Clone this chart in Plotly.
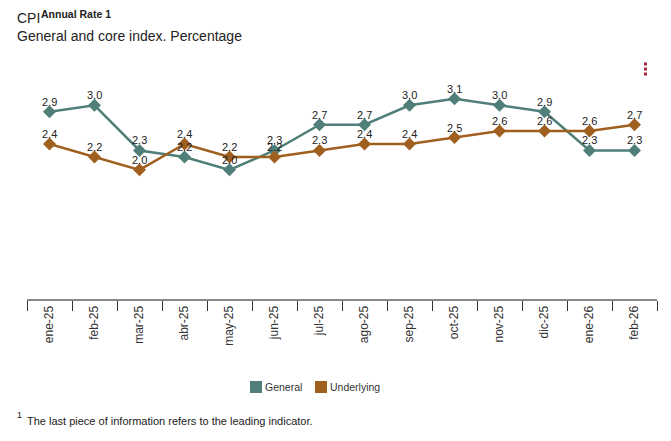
import plotly.graph_objects as go

months = ["ene-25", "feb-25", "mar-25", "abr-25", "may-25", "jun-25", "jul-25",
          "ago-25", "sep-25", "oct-25", "nov-25", "dic-25", "ene-26", "feb-26"]
general = [2.9, 3.0, 2.3, 2.2, 2.0, 2.3, 2.7, 2.7, 3.0, 3.1, 3.0, 2.9, 2.3, 2.3]
underlying = [2.4, 2.2, 2.0, 2.4, 2.2, 2.2, 2.3, 2.4, 2.4, 2.5, 2.6, 2.6, 2.6, 2.7]
series_names = ["General", "Underlying"]

C_GEN = "#4f7f78"
C_UND = "#9f5f1f"

# page has an 8px body margin: work in screen pixels, shift into figure pixels
OFF = 8
W, H = 671 - OFF, 441 - OFF
PL, PR, PT, PB = 27, 657, 73, 299          # plot area in screen pixels
L, R, T, B = PL - OFF, W - (PR - OFF), PT - OFF, H - (PB - OFF)
PW, PH = W - L - R, H - T - B


def px(x):
    return (x - OFF - L) / PW


def py(y):
    return (H - B - (y - OFF)) / PH


FONT = "Liberation Sans, Arial"


def label(text, x, y, size, color="#222", anchor="left", vanchor="middle"):
    return dict(text=text, x=px(x), y=py(y), xref="paper", yref="paper",
                xanchor=anchor, yanchor=vanchor, showarrow=False,
                borderpad=0, borderwidth=0,
                font=dict(family=FONT, size=size, color=color))


fig = go.Figure()
annotations = []
for name, vals, col in [(series_names[0], general, C_GEN), (series_names[1], underlying, C_UND)]:
    fig.add_trace(go.Scatter(
        x=months, y=vals, mode="lines+markers", name=name,
        line=dict(color=col, width=2.5),
        marker=dict(symbol="diamond", size=10, color=col),
        showlegend=False, hoverinfo="skip", cliponaxis=False,
    ))
    for m, v in zip(months, vals):
        annotations.append(dict(
            x=m, y=v, xref="x", yref="y", text=f"{v:.1f}", showarrow=False,
            yshift=10, yanchor="middle", xanchor="center",
            font=dict(family=FONT, size=11, color="#222")))

# legend (square swatches + labels)
shapes = []
for (sx, tx), name, col in zip([(250, 265), (315, 330)], series_names, [C_GEN, C_UND]):
    shapes.append(dict(type="rect", xref="paper", yref="paper",
                       x0=px(sx), x1=px(sx + 12), y0=py(381), y1=py(393),
                       fillcolor=col, line=dict(width=0)))
    annotations.append(label(name, tx, 387, 10.5, "#333"))

# menu dots
for i in range(3):
    shapes.append(dict(type="rect", xref="paper", yref="paper", x0=px(644), x1=px(647),
                       y0=py(62.5 + 5 * i), y1=py(65.5 + 5 * i),
                       fillcolor="#a52a3f", line=dict(width=0)))

annotations += [
    label("CPI", 17, 18, 14),
    label("<b>Annual Rate 1</b>", 41, 8, 10.5, vanchor="top"),
    label("General and core index. Percentage", 17, 36, 14),
    label("1", 17, 415, 9),
    label("The last piece of information refers to the leading indicator.", 27, 421, 11),
]

fig.update_layout(
    width=W, height=H,
    margin=dict(l=L, r=R, t=T, b=B, autoexpand=False),
    paper_bgcolor="white", plot_bgcolor="white",
    showlegend=False,
    xaxis=dict(
        type="category", range=[-0.5, 13.5],
        showgrid=False, zeroline=False,
        showline=True, linecolor="#888", linewidth=2,
        ticks="outside", tickson="boundaries", ticklen=10, tickcolor="#333", tickwidth=1,
        tickangle=-90,
        tickfont=dict(family=FONT, size=12, color="#333"),
        fixedrange=True, automargin=False,
    ),
    yaxis=dict(range=[0, 3.5], visible=False, fixedrange=True),
    annotations=annotations,
    shapes=shapes,
)

fig.write_html("out.html", config={"displayModeBar": False})
